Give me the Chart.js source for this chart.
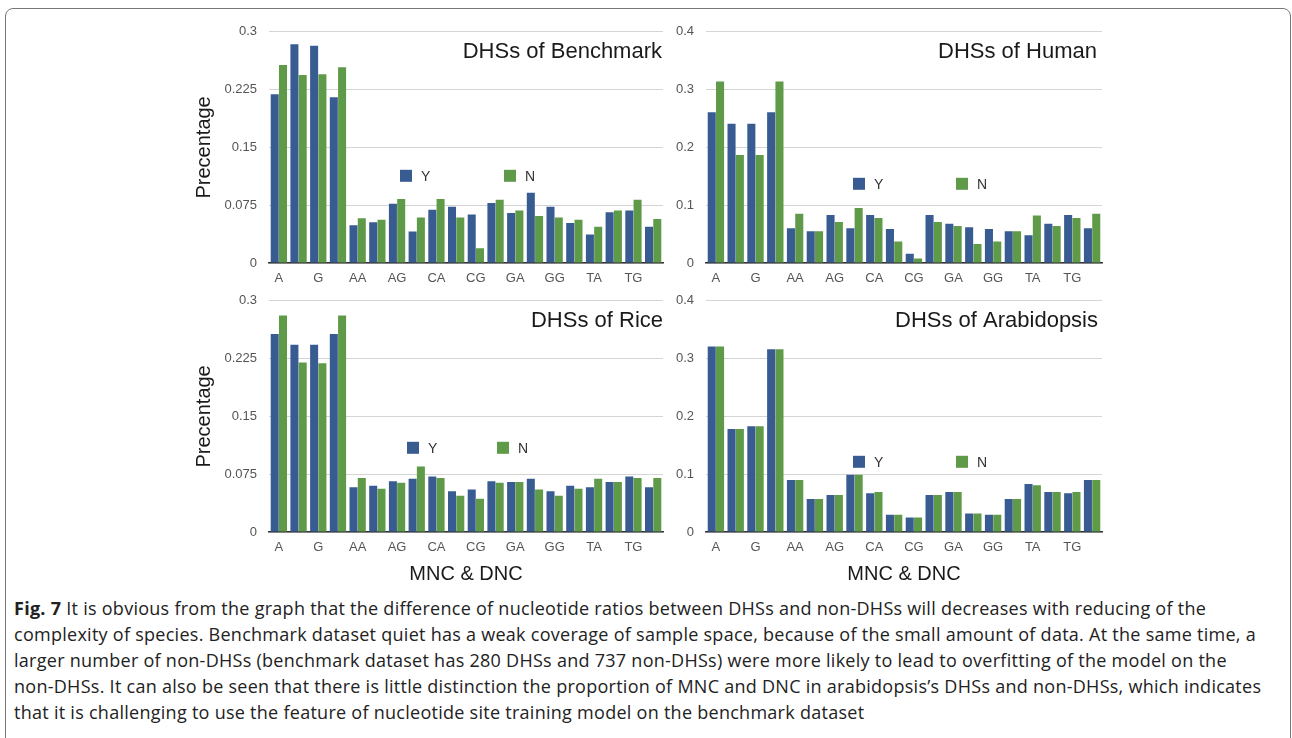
<!DOCTYPE html>
<html>
<head>
<meta charset="utf-8">
<script src="https://cdn.jsdelivr.net/npm/chart.js@4.4.0/dist/chart.umd.min.js"></script>
<style>
  body { margin: 0; background: #fff; width: 1292px; height: 738px; overflow: hidden; position: relative; }
  .frame { position: absolute; left: 5px; top: 8px; width: 1284px; height: 760px; border: 1.5px solid #777; border-radius: 8px; }
  .panel { position: absolute; }
  .caption { position: absolute; left: 14px; top: 595px; font-family: "Open Sans", sans-serif; font-size: 18px; letter-spacing: 0.27px; line-height: 26px; color: #222; white-space: nowrap; }
  .caption b { font-weight: 700; }
</style>
</head>
<body>
<div class="frame"></div>
<div class="panel" style="left:180px;top:12px"><canvas id="bench" width="490" height="282"></canvas></div>
<div class="panel" style="left:670px;top:12px"><canvas id="human" width="440" height="282"></canvas></div>
<div class="panel" style="left:180px;top:281px"><canvas id="rice" width="490" height="309"></canvas></div>
<div class="panel" style="left:670px;top:281px"><canvas id="arab" width="440" height="309"></canvas></div>
<div class="caption">
  <div><b>Fig. 7</b> It is obvious from the graph that the difference of nucleotide ratios between DHSs and non-DHSs will decreases with reducing of the</div>
  <div>complexity of species. Benchmark dataset quiet has a weak coverage of sample space, because of the small amount of data. At the same time, a</div>
  <div>larger number of non-DHSs (benchmark dataset has 280 DHSs and 737 non-DHSs) were more likely to lead to overfitting of the model on the</div>
  <div>non-DHSs. It can also be seen that there is little distinction the proportion of MNC and DNC in arabidopsis’s DHSs and non-DHSs, which indicates</div>
  <div>that it is challenging to use the feature of nucleotide site training model on the benchmark dataset</div>
</div>
<script>
// MNC + DNC categories
const categories = ["A", "C", "G", "T", "AA", "AC", "AG", "AT", "CA", "CC", "CG", "CT", "GA", "GC", "GG", "GT", "TA", "TC", "TG", "TT"];

// benchmark
const benchY = [0.219, 0.284, 0.282, 0.215, 0.049, 0.053, 0.077, 0.041, 0.069, 0.073, 0.063, 0.078, 0.065, 0.091, 0.073, 0.052, 0.037, 0.066, 0.068, 0.047];
const benchN = [0.257, 0.244, 0.245, 0.254, 0.058, 0.056, 0.083, 0.059, 0.083, 0.059, 0.019, 0.082, 0.068, 0.061, 0.059, 0.056, 0.047, 0.068, 0.082, 0.057];
// human
const humanY = [0.261, 0.241, 0.241, 0.261, 0.060, 0.055, 0.083, 0.060, 0.083, 0.059, 0.016, 0.083, 0.068, 0.062, 0.059, 0.055, 0.048, 0.068, 0.083, 0.060];
const humanN = [0.314, 0.187, 0.187, 0.314, 0.085, 0.055, 0.071, 0.095, 0.078, 0.037, 0.008, 0.071, 0.064, 0.033, 0.037, 0.055, 0.082, 0.064, 0.078, 0.085];
// rice
const riceY = [0.257, 0.243, 0.243, 0.257, 0.058, 0.060, 0.066, 0.069, 0.072, 0.053, 0.055, 0.066, 0.065, 0.069, 0.053, 0.060, 0.058, 0.065, 0.072, 0.058];
const riceN = [0.281, 0.220, 0.219, 0.281, 0.070, 0.056, 0.064, 0.085, 0.070, 0.047, 0.043, 0.064, 0.065, 0.055, 0.047, 0.056, 0.069, 0.065, 0.070, 0.070];
// arabidopsis
const arabY = [0.321, 0.178, 0.183, 0.316, 0.090, 0.057, 0.064, 0.099, 0.067, 0.030, 0.025, 0.064, 0.069, 0.032, 0.030, 0.057, 0.083, 0.069, 0.067, 0.090];
const arabN = [0.321, 0.178, 0.183, 0.316, 0.090, 0.057, 0.064, 0.099, 0.069, 0.030, 0.025, 0.064, 0.069, 0.032, 0.030, 0.057, 0.081, 0.069, 0.069, 0.090];

const blue = "#385c92";
const green = "#5f9a48";
const font = '"Liberation Sans", Arial, sans-serif';

// title + Y/N legend sit inside the plot area
const panelDecor = {
  id: "panelDecor",
  afterDraw(chart, args, o) {
    const { ctx, chartArea: a } = chart;
    ctx.save();
    ctx.font = "22px " + font;
    ctx.fillStyle = "#1a1a1a";
    ctx.textAlign = "right";
    ctx.textBaseline = "alphabetic";
    ctx.fillText(o.title, a.right - o.inset, a.top + 26);
    ctx.font = "14px " + font;
    ctx.textAlign = "left";
    ctx.textBaseline = "middle";
    chart.data.datasets.forEach((ds, i) => {
      const x = a.left + o.legendX[i];
      const y = a.top + o.legendY;
      ctx.fillStyle = ds.backgroundColor;
      ctx.fillRect(x, y - 6, 12, 12);
      ctx.fillStyle = "#333";
      ctx.fillText(ds.label, x + 21, y + 1);
    });
    ctx.restore();
  }
};

function makePanel(id, yVals, nVals, opt) {
  new Chart(document.getElementById(id), {
    type: "bar",
    data: {
      labels: categories,
      datasets: [
        { label: "Y", data: yVals, backgroundColor: blue, borderWidth: 0 },
        { label: "N", data: nVals, backgroundColor: green, borderWidth: 0 }
      ]
    },
    options: {
      responsive: false,
      animation: false,
      categoryPercentage: 0.84,
      barPercentage: 0.97,
      layout: { padding: opt.padding },
      plugins: {
        legend: { display: false },
        tooltip: { enabled: false },
        panelDecor: opt.decor
      },
      scales: {
        x: {
          grid: { display: false, drawTicks: false },
          border: { display: true, color: "#333", width: 1.5 },
          ticks: {
            autoSkip: false, maxRotation: 0, padding: 8, color: "#555",
            font: { family: font, size: 13 },
            callback: (v, i) => (i % 2 === 0 ? categories[i] : "")
          },
          title: {
            display: opt.xTitle, text: "MNC & DNC", color: "#1a1a1a",
            padding: 0, font: { family: font, size: 20 }
          },
          afterFit: (s) => { s.height = opt.xHeight; }
        },
        y: {
          min: 0, max: opt.max,
          grid: { color: "#d4d4d4", lineWidth: 1, drawTicks: false },
          border: { display: false },
          ticks: {
            stepSize: opt.step, padding: 12, color: "#555",
            font: { family: font, size: 13 },
            callback: (v) => String(parseFloat(v.toFixed(3)))
          },
          title: {
            display: opt.yTitle, text: "Precentage", color: "#1a1a1a",
            padding: 0, font: { family: font, size: 20 }
          },
          afterFit: (s) => { s.width = opt.yWidth; }
        }
      }
    },
    plugins: [panelDecor]
  });
}

makePanel("bench", benchY, benchN, {
  padding: { left: 12, right: 7, top: 11, bottom: 6 }, yWidth: 77, xHeight: 25,
  max: 0.3, step: 0.075, yTitle: true, xTitle: false,
  decor: { title: "DHSs of Benchmark", inset: 1, legendX: [131, 235], legendY: 144 }
});
makePanel("human", humanY, humanN, {
  padding: { left: 0, right: 8, top: 11, bottom: 6 }, yWidth: 36, xHeight: 25,
  max: 0.4, step: 0.1, yTitle: false, xTitle: false,
  decor: { title: "DHSs of Human", inset: 5, legendX: [147, 250], legendY: 152 }
});
makePanel("rice", riceY, riceN, {
  padding: { left: 12, right: 7, top: 11, bottom: 4 }, yWidth: 77, xHeight: 54,
  max: 0.3, step: 0.075, yTitle: true, xTitle: true,
  decor: { title: "DHSs of Rice", inset: 0, legendX: [138, 228], legendY: 147 }
});
makePanel("arab", arabY, arabN, {
  padding: { left: 0, right: 8, top: 11, bottom: 4 }, yWidth: 36, xHeight: 54,
  max: 0.4, step: 0.1, yTitle: false, xTitle: true,
  decor: { title: "DHSs of Arabidopsis", inset: 4, legendX: [147, 250], legendY: 161 }
});
</script>
</body>
</html>
